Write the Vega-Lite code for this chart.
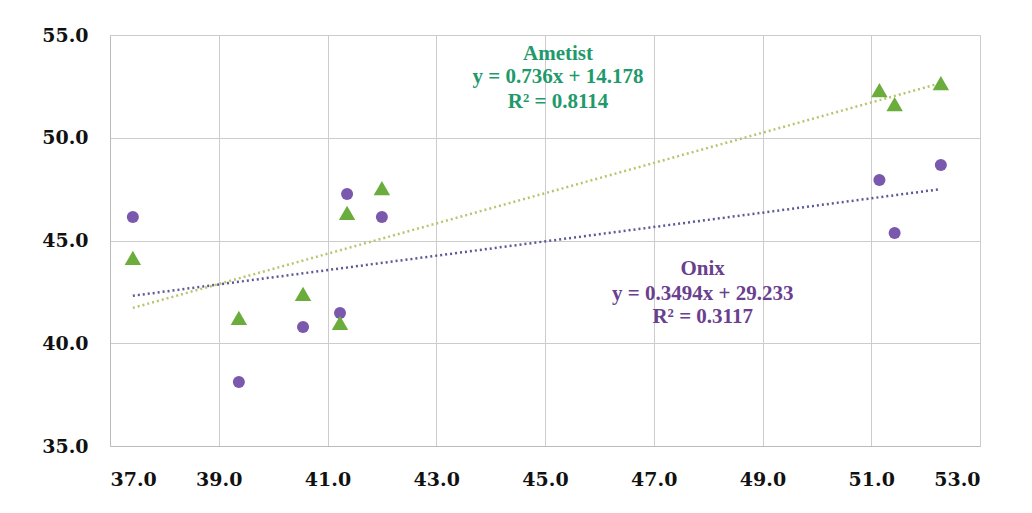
{
  "$schema": "https://vega.github.io/schema/vega-lite/v6.json",
  "width": 870,
  "height": 411,
  "autosize": "none",
  "padding": {"left": 110, "top": 35, "right": 52, "bottom": 67},
  "background": "white",
  "config": {
    "view": {"stroke": null},
    "axis": {
      "labelFont": "DejaVu Serif",
      "labelFontWeight": "bold",
      "labelFontSize": 19,
      "labelColor": "#111111",
      "gridColor": "#cccccc",
      "gridWidth": 1,
      "domainColor": "#bbbbbb",
      "ticks": false,
      "title": null
    }
  },
  "datasets": {
    "pts": [
      {"series": "Onix", "x": 37.42, "y": 46.14},
      {"series": "Onix", "x": 39.37, "y": 38.11},
      {"series": "Onix", "x": 40.55, "y": 40.79},
      {"series": "Onix", "x": 41.23, "y": 41.47},
      {"series": "Onix", "x": 41.36, "y": 47.26},
      {"series": "Onix", "x": 42.0, "y": 46.14},
      {"series": "Onix", "x": 51.15, "y": 47.94},
      {"series": "Onix", "x": 51.43, "y": 45.36},
      {"series": "Onix", "x": 52.28, "y": 48.67},
      {"series": "Ametist", "x": 37.42, "y": 44.15},
      {"series": "Ametist", "x": 39.37, "y": 41.23},
      {"series": "Ametist", "x": 40.55, "y": 42.40},
      {"series": "Ametist", "x": 41.23, "y": 40.99},
      {"series": "Ametist", "x": 41.36, "y": 46.34},
      {"series": "Ametist", "x": 42.0, "y": 47.55},
      {"series": "Ametist", "x": 51.15, "y": 52.32},
      {"series": "Ametist", "x": 51.43, "y": 51.64},
      {"series": "Ametist", "x": 52.28, "y": 52.66}
    ],
    "trend": [
      {"series": "Onix", "x": 37.42, "y": 42.31},
      {"series": "Onix", "x": 52.28, "y": 47.50},
      {"series": "Ametist", "x": 37.42, "y": 41.72},
      {"series": "Ametist", "x": 52.28, "y": 52.66}
    ],
    "labels": [
      {"series": "Ametist", "x": 45.24, "y": 54.08, "text": "Ametist"},
      {"series": "Ametist", "x": 45.24, "y": 52.94, "text": "y = 0.736x + 14.178"},
      {"series": "Ametist", "x": 45.24, "y": 51.74, "text": "R² = 0.8114"},
      {"series": "Onix", "x": 47.9, "y": 43.59, "text": "Onix"},
      {"series": "Onix", "x": 47.9, "y": 42.42, "text": "y = 0.3494x + 29.233"},
      {"series": "Onix", "x": 47.9, "y": 41.3, "text": "R² = 0.3117"}
    ]
  },
  "layer": [
    {
      "data": {"name": "trend"},
      "mark": {"type": "line", "strokeDash": [2, 3], "strokeWidth": 2.5},
      "encoding": {
        "x": {"field": "x", "type": "quantitative", "scale": {"domain": [37, 53], "nice": false, "zero": false},
              "axis": {"values": [37, 39, 41, 43, 45, 47, 49, 51, 53], "format": ".1f", "labelPadding": 24, "grid": true}},
        "y": {"field": "y", "type": "quantitative", "scale": {"domain": [35, 55], "nice": false, "zero": false},
              "axis": {"values": [35, 40, 45, 50, 55], "format": ".1f", "labelPadding": 22, "grid": true}},
        "detail": {"field": "series"},
        "color": {"field": "series", "type": "nominal", "legend": null,
                  "scale": {"domain": ["Onix", "Ametist"], "range": ["#5b5a96", "#b9c46e"]}}
      }
    },
    {
      "data": {"name": "pts"},
      "mark": {"type": "point", "filled": true, "opacity": 1},
      "encoding": {
        "x": {"field": "x", "type": "quantitative"},
        "y": {"field": "y", "type": "quantitative"},
        "shape": {"field": "series", "type": "nominal", "legend": null,
                  "scale": {"domain": ["Onix", "Ametist"], "range": ["circle", "triangle-up"]}},
        "size": {"field": "series", "type": "nominal", "legend": null,
                 "scale": {"domain": ["Onix", "Ametist"], "range": [145, 270]}},
        "fill": {"field": "series", "type": "nominal", "legend": null,
                 "scale": {"domain": ["Onix", "Ametist"], "range": ["#7a58ad", "#6aad3c"]}}
      }
    },
    {
      "data": {"name": "labels"},
      "mark": {"type": "text", "font": "Liberation Serif", "fontWeight": "bold", "fontSize": 21, "align": "center", "baseline": "middle"},
      "encoding": {
        "x": {"field": "x", "type": "quantitative"},
        "y": {"field": "y", "type": "quantitative"},
        "text": {"field": "text"},
        "fill": {"field": "series", "type": "nominal", "legend": null,
                 "scale": {"domain": ["Onix", "Ametist", "z"], "range": ["#6a3f8e", "#1f9a6c", "#000000"]}}
      }
    }
  ],
  "resolve": {"scale": {"fill": "independent"}}
}
